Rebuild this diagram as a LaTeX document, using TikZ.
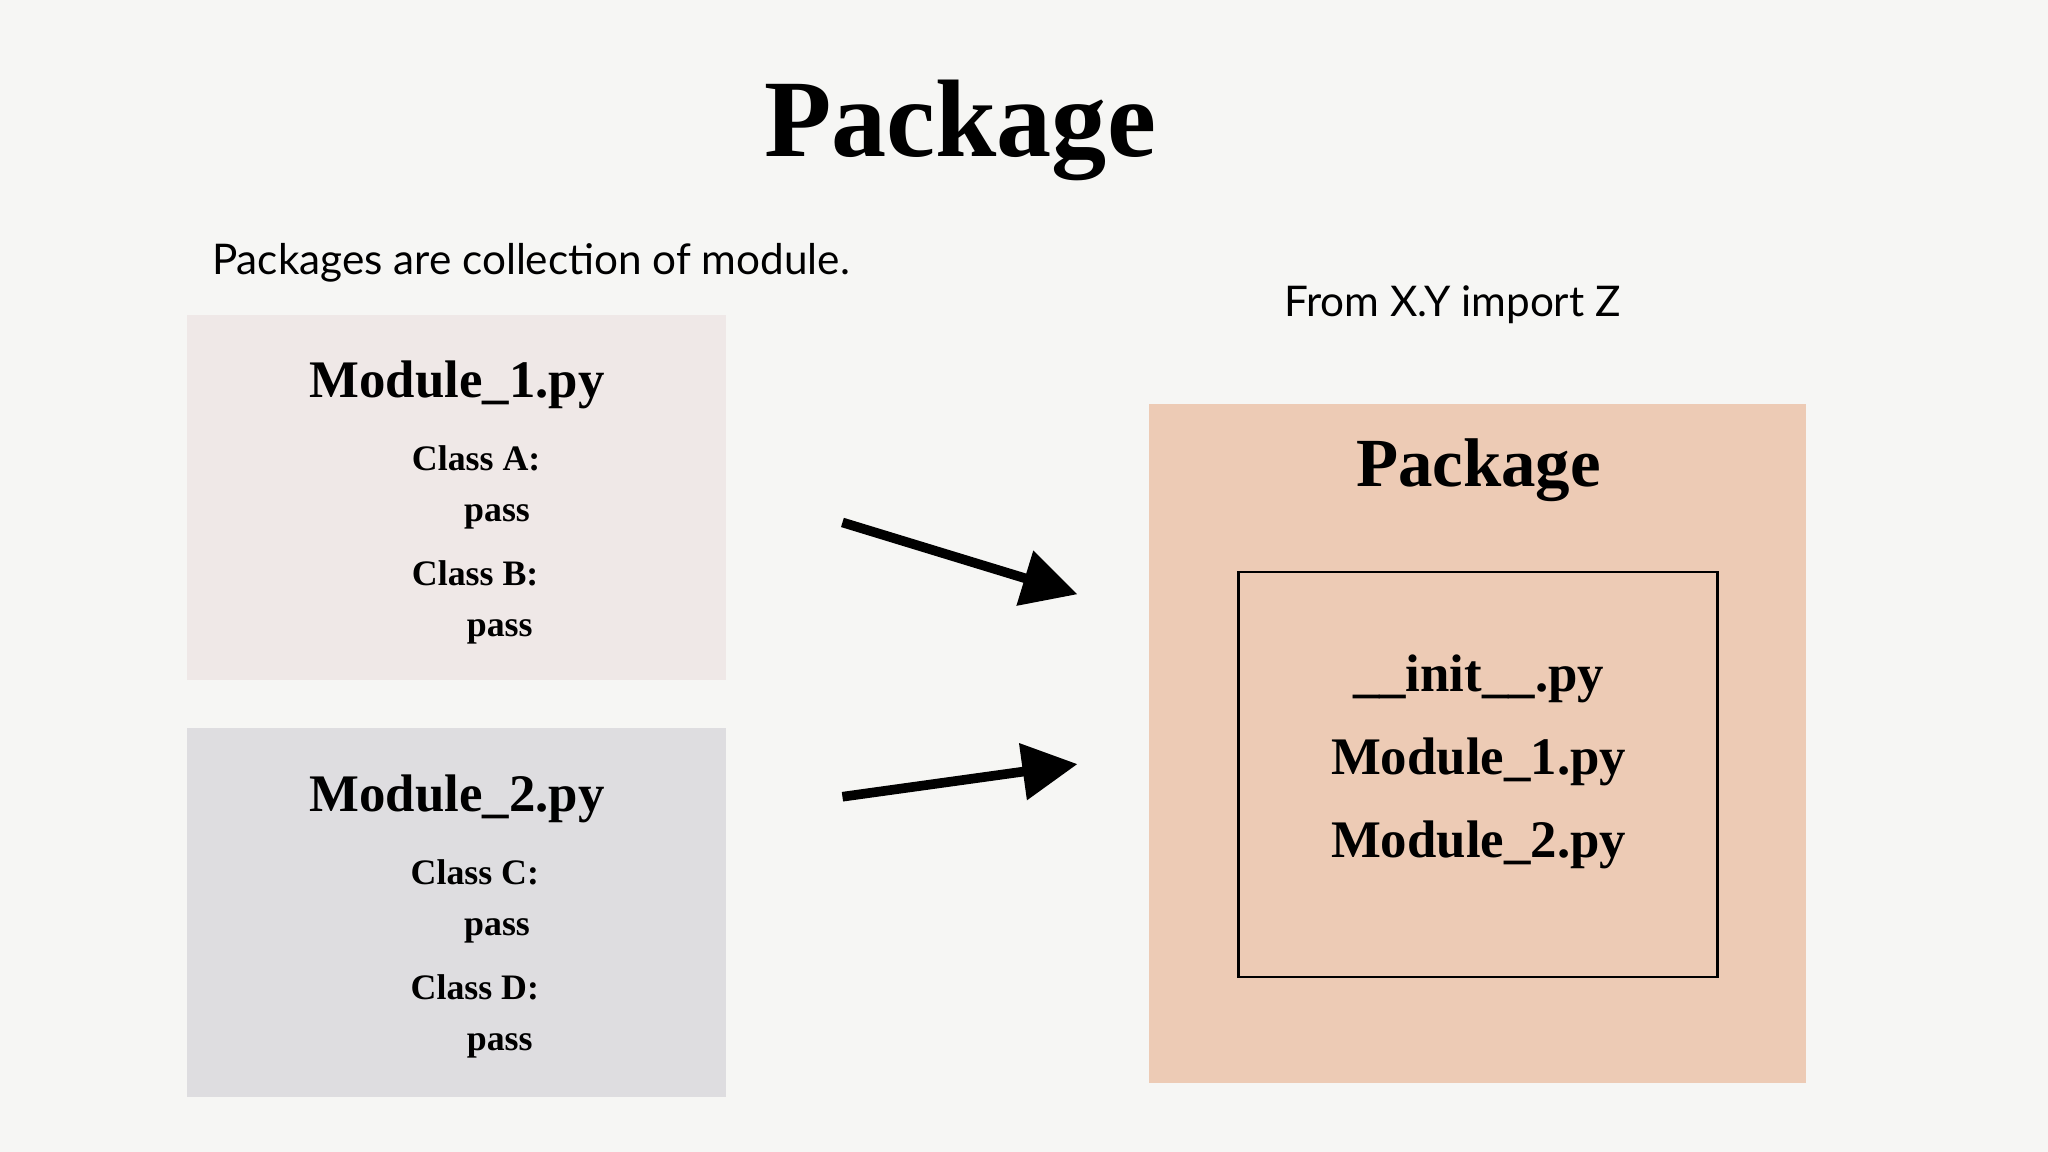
\documentclass[tikz,border=0pt]{standalone}
\usepackage{fontspec}
\setmainfont{Liberation Serif}
\newfontfamily\sansfont{Lato}
\usetikzlibrary{arrows.meta,positioning}
\definecolor{bgcol}{HTML}{F6F6F4}
\definecolor{modone}{HTML}{EFE8E7}
\definecolor{modtwo}{HTML}{DEDDE0}
\definecolor{pkgcol}{HTML}{EDCBB5}
\begin{document}
\begin{tikzpicture}[x=0.01cm,y=-0.01cm,
  title/.style={font=\fontsize{24}{26}\selectfont\bfseries},
  modname/.style={font=\fontsize{11.5}{13}\selectfont\bfseries},
  code/.style={font=\fontsize{7.8}{9}\selectfont\bfseries,anchor=west},
  plain/.style={font=\sansfont\fontsize{9.2}{11}\selectfont},
  big arrow/.style={line width=2.1pt,-{Triangle[length=12pt,width=12pt]}}]

\fill[bgcol] (0,0) rectangle (1568,882);

% Titles
\node[title] (title) at (735,100) {Package};
\node[plain,anchor=west] (intro) at (150,201) {Packages are collection of module.};
\node[plain] (fromline) at (1112,233) {From X.Y import Z};

% Module boxes
\fill[modone] (143,241) rectangle (556,521);
\node[modname] (mone) at (350,295) {Module\_1.py};
\node[code] (ca) at (303,351) {Class A:};
\node[code] (pa) at (343,396) {pass};
\node[code] (cb) at (303,439) {Class B:};
\node[code] (pb) at (345,484) {pass};

\fill[modtwo] (143,557) rectangle (556,840);
\node[modname] (mtwo) at (350,612) {Module\_2.py};
\node[code] (cc) at (302,668) {Class C:};
\node[code] (pc) at (343,713) {pass};
\node[code] (cd) at (302,756) {Class D:};
\node[code] (pd) at (345,801) {pass};

% Package box
\fill[pkgcol] (880,309) rectangle (1383,829);
\node[title,font=\fontsize{15}{17}\selectfont\bfseries] (pkg) at (1132,360) {Package};
\draw[line width=0.6pt] (948,438) rectangle (1315,748);
\node[modname] (init) at (1132,520) {\_\_init\_\_.py};
\node[modname] (pone) at (1132,583) {Module\_1.py};
\node[modname] (ptwo) at (1132,647) {Module\_2.py};

% Arrows
\coordinate (afrom) at (645,400);
\coordinate (ato) at (825,455);
\coordinate (bfrom) at (645,610);
\coordinate (bto) at (825,585);
\draw[big arrow] (afrom) -- (ato);
\draw[big arrow] (bfrom) -- (bto);

\end{tikzpicture}
\end{document}
